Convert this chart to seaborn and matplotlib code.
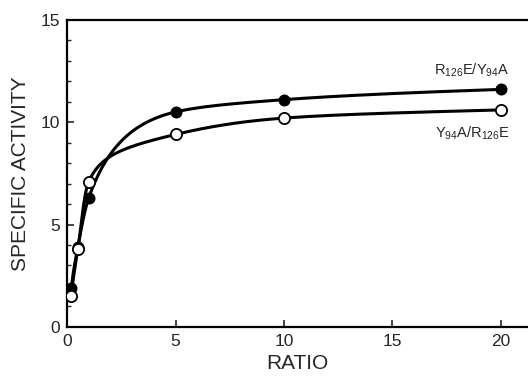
import matplotlib
matplotlib.use("Agg")
import matplotlib.pyplot as plt
import numpy as np
import pandas as pd
import seaborn as sns
from matplotlib.ticker import MultipleLocator

# data
ratio = [0.2, 0.5, 1.0, 5.0, 10.0, 20.0]
act_r126e_y94a = [1.9, 3.9, 6.3, 10.5, 11.1, 11.6]   # filled circles
act_y94a_r126e = [1.5, 3.8, 7.1, 9.4, 10.2, 10.6]    # open circles
label_filled = r"R$_{126}$E/Y$_{94}$A"
label_open = r"Y$_{94}$A/R$_{126}$E"


def smooth_curve(x, y, n=400):
    """Monotone cubic (Fritsch-Carlson) through the points, in log-x space."""
    lx = np.log(np.asarray(x, float))
    y = np.asarray(y, float)
    h = np.diff(lx)
    d = np.diff(y) / h
    m = np.zeros_like(y)
    m[0], m[-1] = d[0], d[-1]
    for k in range(1, len(y) - 1):
        if d[k - 1] * d[k] > 0:
            w1 = 2 * h[k] + h[k - 1]
            w2 = h[k] + 2 * h[k - 1]
            m[k] = (w1 + w2) / (w1 / d[k - 1] + w2 / d[k])
    t_all = np.linspace(lx[0], lx[-1], n)
    out = np.empty(n)
    for i, t in enumerate(t_all):
        k = min(np.searchsorted(lx, t, side="right") - 1, len(h) - 1)
        s = (t - lx[k]) / h[k]
        h00 = 2 * s**3 - 3 * s**2 + 1
        h10 = s**3 - 2 * s**2 + s
        h01 = -2 * s**3 + 3 * s**2
        h11 = s**3 - s**2
        out[i] = h00 * y[k] + h10 * h[k] * m[k] + h01 * y[k + 1] + h11 * h[k] * m[k + 1]
    return np.exp(t_all), out


sns.set_style("ticks")
plt.rcParams["font.family"] = ["Liberation Sans", "DejaVu Sans"]
plt.rcParams["mathtext.fontset"] = "custom"
plt.rcParams["mathtext.rm"] = "Liberation Sans"
plt.rcParams["mathtext.it"] = "Liberation Sans"

fig = plt.figure(figsize=(5.28, 3.81), dpi=100)
ax = fig.add_axes([0.127, 0.142, 0.873, 0.806])

for ys in (act_r126e_y94a, act_y94a_r126e):
    cx, cy = smooth_curve(ratio, ys)
    sns.lineplot(x=cx, y=cy, ax=ax, color="black", lw=2.2, sort=False, zorder=2)

pts = pd.DataFrame({"ratio": ratio, "filled": act_r126e_y94a, "open": act_y94a_r126e})
sns.scatterplot(data=pts, x="ratio", y="filled", ax=ax, s=55, color="black",
                edgecolor="black", linewidth=1.2, zorder=3)
sns.scatterplot(data=pts, x="ratio", y="open", ax=ax, s=65, color="white",
                edgecolor="black", linewidth=1.3, zorder=3)

ax.text(20.4, 12.1, label_filled, ha="right", va="bottom", fontsize=10.5)
ax.text(20.4, 9.9, label_open, ha="right", va="top", fontsize=10.5)

ax.set_xlim(0, 21.25)
ax.set_ylim(0, 15)
ax.xaxis.set_major_locator(MultipleLocator(5))
ax.yaxis.set_major_locator(MultipleLocator(5))
ax.yaxis.set_minor_locator(MultipleLocator(1))
ax.tick_params(axis="both", which="major", direction="in", length=5, width=1.2,
               labelsize=12.5, pad=5)
ax.tick_params(axis="y", which="minor", direction="in", length=3, width=1.0)
for side in ("left", "bottom", "top"):
    ax.spines[side].set_visible(True)
    ax.spines[side].set_linewidth(1.6)
    ax.spines[side].set_color("black")
ax.spines["right"].set_visible(False)

ax.set_xlabel("RATIO", fontsize=15, labelpad=4)
ax.set_ylabel("SPECIFIC ACTIVITY", fontsize=15, labelpad=8)

fig.savefig("out.png", dpi=100, facecolor="white")
